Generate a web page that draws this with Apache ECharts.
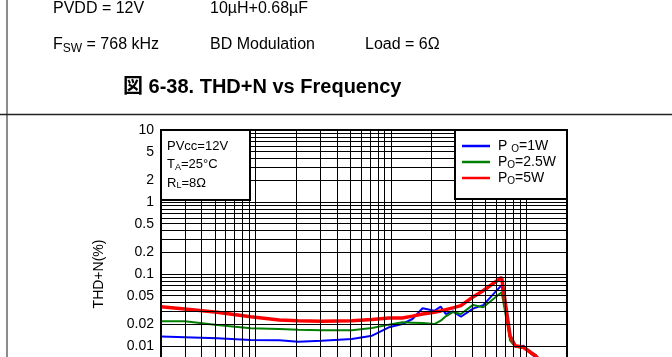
<!DOCTYPE html>
<html><head><meta charset="utf-8">
<script src="https://cdn.jsdelivr.net/npm/echarts@6/dist/echarts.min.js"></script>
<style>html,body{margin:0;padding:0;background:#fff}#c{width:672px;height:357px}</style>
</head><body><div id="c"></div>
<script>
// ---- data ----
const freqHz = [20, 30, 52, 92, 150, 206, 307, 514, 726, 966, 1215, 1442, 1714, 2094, 2334, 2542, 2870, 3292, 4046, 4806, 6580, 7600, 8280, 9550, 10960, 11680, 14000];
const thd1W   = [0.0135, 0.0132, 0.0128, 0.0121, 0.0120, 0.0115, 0.0118, 0.0125, 0.0139, 0.0182, 0.0202, 0.0237, 0.0334, 0.0309, 0.0352, 0.0278, 0.0303, 0.0255, 0.0330, 0.0370, 0.0700, 0.0125, 0.0098, 0.0101, 0.0077, 0.0070, 0.0050];
const thd2p5W = [0.0220, 0.0220, 0.0196, 0.0176, 0.0172, 0.0168, 0.0166, 0.0166, 0.0178, 0.0198, 0.0213, 0.0211, 0.0209, 0.0202, 0.0225, 0.0258, 0.0296, 0.0278, 0.0372, 0.0345, 0.0557, 0.0119, 0.0098, 0.0093, 0.0077, 0.0073, 0.0050];
const thd5W   = [0.0352, 0.0327, 0.0294, 0.0255, 0.0230, 0.0225, 0.0220, 0.0225, 0.0233, 0.0245, 0.0245, 0.0260, 0.0278, 0.0294, 0.0307, 0.0320, 0.0338, 0.0363, 0.0480, 0.0586, 0.0900, 0.0139, 0.0101, 0.0096, 0.0080, 0.0074, 0.0050];
const seriesNames = ['PO=1W', 'PO=2.5W', 'PO=5W'];
const legendLabels = {'PO=1W': '{m|P }{s|O}{m|=1W}', 'PO=2.5W': '{m|P}{s|O}{m|=2.5W}', 'PO=5W': '{m|P}{s|O}{m|=5W}'};
const yTickLabels = [0.01, 0.02, 0.05, 0.1, 0.2, 0.5, 1, 2, 5, 10];
const xGridHz = [20,30,40,50,60,70,80,90,100,200,300,400,500,600,700,800,900,1000,2000,3000,4000,5000,6000,7000,8000,9000,10000,20000];
const yGridPct = [0.001,0.002,0.003,0.004,0.005,0.006,0.007,0.008,0.009,0.01,0.02,0.03,0.04,0.05,0.06,0.07,0.08,0.09,0.1,0.2,0.3,0.4,0.5,0.6,0.7,0.8,0.9,1,2,3,4,5,6,7,8,9,10];

const FONT = 'Arial, "Liberation Sans", "Noto Sans CJK JP", sans-serif';
const pairs = arr => freqHz.map((f, i) => [f, arr[i]]);
const fmt = v => String(parseFloat(Number(v).toPrecision(3)));

const chart = echarts.init(document.getElementById('c'), null, {renderer: 'canvas'});
chart.setOption({
  animation: false,
  backgroundColor: '#fff',
  grid: {left: 161, right: 105, top: 130, bottom: -61, show: true, borderColor: '#000', borderWidth: 2, backgroundColor: 'transparent', outerBoundsMode: 'none'},
  xAxis: {type: 'log', logBase: 10, min: 20, max: 20000,
    axisLine: {show: false}, axisTick: {show: false}, axisLabel: {show: false}, splitLine: {show: false}},
  yAxis: {type: 'log', logBase: 10, min: 0.001, max: 10,
    name: 'THD+N(%)', nameLocation: 'middle', nameGap: 55,
    nameTextStyle: {fontFamily: FONT, fontSize: 14, color: '#000'},
    axisLine: {show: false}, axisTick: {show: false}, splitLine: {show: false},
    axisLabel: {show: true, customValues: yTickLabels, hideOverlap: false, margin: 7, fontFamily: FONT, fontSize: 14, color: '#000',
      padding: [3, 0, 0, 0], formatter: v => fmt(v)}},
  legend: {orient: 'vertical', left: 462, top: 139, padding: 0, itemWidth: 28, itemHeight: 2.5, itemGap: 1,
    selectedMode: false, z: 20,
    data: seriesNames.map(n => ({name: n, icon: 'rect'})),
    formatter: n => legendLabels[n],
    textStyle: {padding: [0, 0, 0, 3], rich: {
      m: {fontFamily: FONT, fontSize: 14, color: '#000', lineHeight: 16},
      s: {fontFamily: FONT, fontSize: 10, color: '#000', lineHeight: 10, verticalAlign: 'bottom'}}}},
  series: [
    {type: 'line', name: '_grid', data: [], z: 1, silent: true,
      markLine: {silent: true, symbol: ['none', 'none'], animation: false, label: {show: false},
        lineStyle: {type: 'solid', color: '#000', width: 1},
        emphasis: {disabled: true},
        data: xGridHz.map(v => ({xAxis: v})).concat(yGridPct.map(v => ({yAxis: v})))}},
    {type: 'line', name: seriesNames[0], data: pairs(thd1W), symbol: 'none', z: 3,
      lineStyle: {color: '#0000ff', width: 2}, itemStyle: {color: '#0000ff'}},
    {type: 'line', name: seriesNames[1], data: pairs(thd2p5W), symbol: 'none', z: 3,
      lineStyle: {color: '#008000', width: 2}, itemStyle: {color: '#008000'}},
    {type: 'line', name: seriesNames[2], data: pairs(thd5W), symbol: 'none', z: 4,
      lineStyle: {color: '#ff0000', width: 3.5}, itemStyle: {color: '#ff0000'}}
  ],
  graphic: {elements: [
    {type: 'line', z: 10, shape: {x1: 7, y1: 0, x2: 7, y2: 357}, style: {stroke: '#8c8c8c', lineWidth: 2}},
    {type: 'line', z: 10, shape: {x1: 0, y1: 114.5, x2: 672, y2: 114.5}, style: {stroke: '#222', lineWidth: 1.5}},
    {type: 'text', z: 10, x: 53, y: 8.5, style: {text: 'PVDD = 12V', fontFamily: FONT, fontSize: 16, fill: '#000', verticalAlign: 'middle'}},
    {type: 'text', z: 10, x: 210, y: 8.5, style: {text: '10µH+0.68µF', fontFamily: FONT, fontSize: 16, fill: '#000', verticalAlign: 'middle'}},
    {type: 'text', z: 10, x: 53, y: 44.5, style: {text: '{m|F}{s|SW}{m| = 768 kHz}', verticalAlign: 'middle',
      rich: {m: {fontFamily: FONT, fontSize: 16, fill: '#000', lineHeight: 20}, s: {fontFamily: FONT, fontSize: 12, fill: '#000', lineHeight: 12, verticalAlign: 'bottom'}}}},
    {type: 'text', z: 10, x: 210, y: 44.5, style: {text: 'BD Modulation', fontFamily: FONT, fontSize: 16, fill: '#000', verticalAlign: 'middle'}},
    {type: 'text', z: 10, x: 365, y: 44.5, style: {text: 'Load = 6Ω', fontFamily: FONT, fontSize: 16, fill: '#000', verticalAlign: 'middle'}},
    {type: 'text', z: 10, x: 123, y: 87, style: {text: '図 6-38. THD+N vs Frequency', fontFamily: FONT, fontSize: 20, fontWeight: 'bold', fill: '#000', verticalAlign: 'middle'}},
    {type: 'rect', z: 10, shape: {x: 161, y: 130, width: 89, height: 70}, style: {fill: '#fff', stroke: '#000', lineWidth: 2}},
    {type: 'text', z: 11, x: 167, y: 146, style: {text: 'PVcc=12V', fontFamily: FONT, fontSize: 13, fill: '#000', verticalAlign: 'middle'}},
    {type: 'text', z: 11, x: 167, y: 164.5, style: {text: '{m|T}{s|A}{m|=25°C}', verticalAlign: 'middle',
      rich: {m: {fontFamily: FONT, fontSize: 13, fill: '#000', lineHeight: 15}, s: {fontFamily: FONT, fontSize: 9, fill: '#000', lineHeight: 9, verticalAlign: 'bottom'}}}},
    {type: 'text', z: 11, x: 167, y: 183, style: {text: '{m|R}{s|L}{m|=8Ω}', verticalAlign: 'middle',
      rich: {m: {fontFamily: FONT, fontSize: 13, fill: '#000', lineHeight: 15}, s: {fontFamily: FONT, fontSize: 9, fill: '#000', lineHeight: 9, verticalAlign: 'bottom'}}}},
    {type: 'rect', z: 10, shape: {x: 455, y: 130, width: 112, height: 69}, style: {fill: '#fff', stroke: '#000', lineWidth: 2}}
  ]}
});
</script></body></html>
